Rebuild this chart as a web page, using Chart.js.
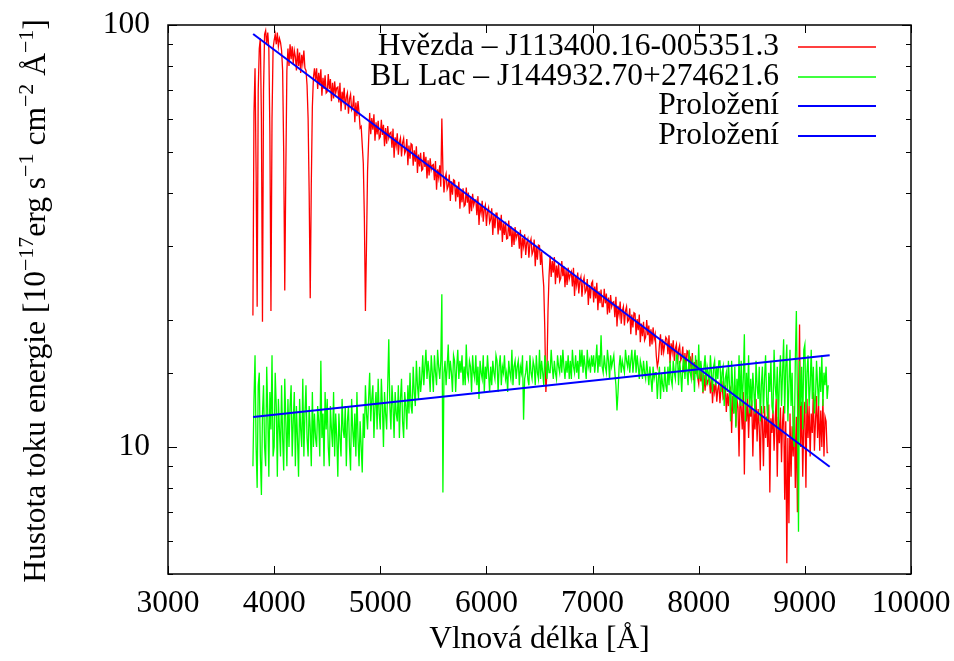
<!DOCTYPE html>
<html>
<head>
<meta charset="utf-8">
<script src="https://cdn.jsdelivr.net/npm/chart.js@4.4.1/dist/chart.umd.min.js"></script>
<style>
    html, body { margin: 0; padding: 0; background: #fff; }
</style>
</head>
<body>
<canvas id="spectrumChart" width="954" height="661"></canvas>
<script>
const waveStart = 3800;
const waveStep = 10;

// Hvězda – J113400.16-005351.3  (one row = 100 Å)
const starFlux = [
    20.5, 62, 79, 45, 21.5, 70, 88, 93, 60, 19.8,                        // 3800
    70, 95, 97, 90, 96, 88, 55, 21, 60, 88,                              // 3900
    92, 95, 90, 96, 89, 93, 91, 87, 78, 50,                              // 4000
    23.5, 45, 78, 88, 80, 90, 83, 89, 81, 87,                            // 4100
    84, 78, 88, 80, 86, 77, 85, 81, 87, 79,                              // 4200
    78, 72, 60, 40, 22.5, 42, 64, 75, 79, 74,                            // 4300
    79, 70.5, 77, 72, 78.5, 68, 75, 70.5, 76, 69,                        // 4400
    69.5, 76.5, 70.5, 74.5, 66, 73, 67, 73.5, 69, 71,                    // 4500
    71.3, 65.5, 73, 62.5, 69.5, 66.5, 71, 63, 67.5, 69,                  // 4600
    61.6, 66.8, 68.5, 63, 64, 68, 58.8, 65.5, 60.8, 66,                  // 4700
    62, 57, 57.5, 52, 47, 35, 21, 30, 45, 53,                            // 4800
    61.9, 55.1, 60.2, 56.5, 61.4, 53.2, 58.8, 55, 59.3, 53.8,            // 4900
    54.3, 59.6, 54.9, 58, 51.6, 57, 52.3, 57.6, 54, 55.4,                // 5000
    55.7, 51.2, 56.8, 48.5, 54.2, 51.8, 55.4, 49.3, 52.8, 54,            // 5100
    48.8, 52.6, 53.9, 49.6, 50.4, 53.7, 46.5, 51.8, 48.2, 52.3,          // 5200
    52, 46.4, 50.5, 47.4, 51.6, 44.6, 49.3, 46.2, 49.8, 45.2,            // 5300
    45.5, 50, 46.1, 48.7, 43.3, 47.8, 44, 48.3, 45.4, 46.5,              // 5400
    46.7, 42.9, 47.6, 40.7, 45.5, 43.5, 46.5, 41.4, 60, 45.3,            // 5500
    40.1, 43.3, 44.4, 40.8, 41.5, 44.2, 38.3, 42.6, 39.6, 43,            // 5600
    42.8, 38.2, 41.6, 39.1, 42.5, 36.7, 40.6, 38, 41, 37.2,              // 5700
    37.5, 41.2, 37.9, 40.1, 35.7, 39.3, 36.2, 39.8, 37.4, 38.3,          // 5800
    38.5, 35.4, 39.3, 33.6, 37.5, 35.9, 38.3, 34.2, 36.6, 37.4,          // 5900
    33.4, 36.1, 36.9, 34, 34.6, 36.8, 31.8, 35.4, 33, 35.8,              // 6000
    35.8, 31.9, 34.8, 32.6, 35.5, 30.6, 33.9, 31.8, 34.2, 31.1,          // 6100
    31.2, 34.4, 31.6, 33.4, 29.8, 32.8, 30.1, 33.2, 31.2, 31.9,          // 6200
    32.1, 29.5, 32.7, 28, 31.3, 29.9, 31.9, 28.5, 30.5, 31.1,            // 6300
    28.1, 30.4, 31.1, 28.6, 29.1, 31, 26.8, 29.9, 27.8, 30.1,            // 6400
    30, 27, 29, 26, 24, 19, 13.5, 15, 21, 25.5,                          // 6500
    28.4, 25.3, 27.6, 25.9, 28.2, 24.3, 26.9, 25.2, 27.2, 24.7,          // 6600
    25.1, 27.6, 25.4, 26.8, 23.9, 26.3, 24.2, 26.6, 25, 25.6,            // 6700
    26, 24, 26.6, 22.8, 25.4, 24.2, 25.9, 23.1, 24.7, 25.3,              // 6800
    22.7, 24.6, 25.2, 23.2, 23.5, 25, 21.7, 24.2, 22.5, 24.4,            // 6900
    24.7, 22, 24, 22.5, 24.5, 21.1, 23.4, 21.9, 23.6, 21.5,              // 7000
    21.5, 23.7, 21.9, 23.1, 20.6, 22.6, 20.8, 22.9, 21.5, 22,            // 7100
    22.1, 20.3, 22.7, 19.3, 21.6, 20.6, 22.1, 19.6, 21, 21.5,            // 7200
    19.4, 21, 21.5, 19.8, 20, 21.3, 18.5, 20.6, 19.2, 20.8,              // 7300
    20.7, 18.4, 20.1, 18.9, 20.6, 17.7, 19.6, 18.3, 19.8, 17.9,          // 7400
    18.2, 20, 18.4, 19.4, 17.3, 19, 17.5, 19.2, 18, 18.5,                // 7500
    16.5, 15.5, 16, 17.5, 18.5, 16.5, 18, 16.8, 17.5, 18.2,              // 7600
    18, 16.6, 18.4, 15.8, 17.6, 16.8, 17.9, 16, 17.1, 17.5,              // 7700
    15.7, 17, 17.4, 16, 16.3, 17.3, 15, 16.7, 15.5, 16.9,                // 7800
    16.8, 15, 16.4, 15.3, 16.7, 14.4, 15.9, 14.9, 16.1, 14.6,            // 7900
    14.1, 15.6, 14.3, 15.1, 13.4, 14.8, 13.6, 14.9, 14.1, 14.4,          // 8000
    14.5, 13.4, 14.8, 12.7, 14.1, 13.5, 14.4, 12.8, 13.7, 14.1,          // 8100
    12.7, 13.8, 14.1, 13, 13.1, 14, 12.1, 13.4, 12.5, 13.6,              // 8200
    13.8, 10.8, 13.2, 12, 14, 11.2, 13, 12.4, 9.5, 13.4,                 // 8300
    12.4, 11, 13.5, 8.6, 12.8, 11.5, 13.2, 10.5, 12.6, 11.8,             // 8400
    12.9, 9.5, 12.2, 11, 13, 10.3, 12.3, 11.2, 8.8, 12.5,                // 8500
    11.5, 9, 12.5, 10.5, 11.8, 10, 12.6, 7.8, 11.7, 10.8,                // 8600
    12.2, 9.8, 11.5, 13, 8.5, 11.8, 10.2, 12.4, 9.2, 11.5,               // 8700
    12.5, 7.5, 11.5, 5.3, 10.5, 6.6, 12, 8.5, 11.2, 9.5,                 // 8800
    12.5, 8, 11.8, 7, 12.3, 19.5, 10, 12.8, 8.5, 11.5,                   // 8900
    12.8, 8, 13, 10.5, 12.5, 9.5, 12, 10.8, 13.5, 9.8,                   // 9000
    11.5, 13.2, 10.5, 12.5, 9.8, 12.2, 10, 13, 9.5, 11.8,                // 9100
    11.5, 9.7, 9.7                                                       // 9200
];

// BL Lac – J144932.70+274621.6  (one row = 100 Å)
const blLacFlux = [
    9, 13, 16.5, 10, 8, 14, 15, 9.5, 7.7, 12,                            // 3800
    14, 10, 9, 15.5, 12, 8.5, 13.5, 11, 16.5, 9.5,                       // 3900
    10, 15, 12.5, 8.5, 13, 11, 9.5, 14, 10.5, 8.8,                       // 4000
    14.5, 11.5, 9, 13, 10, 12.5, 14, 9.5, 11.5, 13.5,                    // 4100
    9, 12.5, 10.5, 8.5, 13, 11, 10, 14.5, 9.5, 12,                       // 4200
    14, 10.5, 9.5, 12.5, 11, 9, 13.5, 10, 12, 10.5,                      // 4300
    10, 12.5, 11.5, 9.5, 16, 10.5, 12, 9, 13.5, 11,                      // 4400
    13, 10, 9, 12.5, 11, 10, 13.5, 9.5, 12, 10.5,                        // 4500
    8.5, 12, 10.5, 9.5, 13, 11, 10.5, 12.5, 9, 11.5,                     // 4600
    12.5, 10, 8.8, 13, 11, 10, 12, 9.5, 13.5, 10.5,                      // 4700
    9, 11.5, 10, 8.7, 12, 10.5, 14, 12, 11, 13,                          // 4800
    15, 11.5, 13, 14, 10.5, 12.5, 13.5, 11, 14.5, 12,                    // 4900
    11, 14.5, 12.5, 10, 13.5, 12, 11, 14, 18, 12.5,                      // 5000
    11, 14, 12.5, 10.5, 13.5, 12, 11.5, 14, 10.5, 13,                    // 5100
    14.5, 11.5, 10.5, 13.5, 12.5, 11, 14, 12, 15, 12.5,                  // 5200
    12, 15.5, 13.5, 12.5, 16, 14, 13, 15.5, 13.5, 14.5,                  // 5300
    16.5, 14, 15.5, 17, 14.5, 16, 15, 13.5, 16.5, 15,                    // 5400
    13.5, 16.5, 15, 14, 17, 15.5, 14.5, 16, 23, 7.8,                     // 5500
    15, 16, 14, 15.5, 17.5, 14.5, 16, 15, 13.5, 16.5,                    // 5600
    16, 13.5, 15.5, 17, 14.5, 16, 15, 16.5, 14, 15.5,                    // 5700
    14, 17.5, 15, 14.5, 16, 15.5, 13.5, 16.5, 15, 14.5,                  // 5800
    16.5, 14, 15.5, 13, 16, 15, 14.5, 16.5, 13.5, 15.5,                  // 5900
    14.5, 16.5, 15, 13.5, 15.5, 14, 16, 15, 14.5, 16.5,                  // 6000
    16, 13.5, 15.5, 16.5, 14, 15.5, 15, 16.5, 14.5, 15,                  // 6100
    13.5, 16, 15, 14.5, 17, 14, 15.5, 16, 14.5, 15.5,                    // 6200
    16, 14, 15.5, 15, 16.5, 11.6, 14.5, 15, 16, 14.5,                    // 6300
    14, 16.5, 15, 14.5, 16, 15.5, 14, 16.5, 15, 14.5,                    // 6400
    17, 14.5, 16, 15, 14, 16.5, 15.5, 14.5, 16, 15,                      // 6500
    15, 17, 15.5, 14.5, 16, 15, 14.5, 16.5, 15.5, 15,                    // 6600
    16.5, 15, 17, 15.5, 14.5, 16, 15, 16.5, 14.5, 16,                    // 6700
    14.5, 17, 15.5, 15, 16.5, 15, 16, 14.5, 17, 15.5,                    // 6800
    17, 15, 16.5, 15.5, 14.5, 17, 15.5, 16, 15, 16.5,                    // 6900
    15.5, 16.5, 15, 16, 17.5, 15, 16.5, 15.5, 18.4, 15.5,                // 7000
    15, 16.5, 15.5, 15, 17, 16, 14.5, 16.5, 15.5, 16,                    // 7100
    16.5, 15, 14, 12.2, 13.5, 15.5, 16.5, 15, 16, 15.5,                  // 7200
    15, 17, 16, 15.5, 16.5, 15, 16, 17, 15, 16,                          // 7300
    17, 15, 16.5, 15.5, 14.5, 16, 15.5, 14.5, 16, 15,                    // 7400
    14.5, 16, 15, 14, 15.5, 14.5, 13.5, 15.5, 14.5, 15,                  // 7500
    15, 13, 14.5, 15.5, 13, 15, 14, 13.5, 15.5, 14,                      // 7600
    13.5, 15.5, 14, 16, 14.5, 14, 16, 15, 14.5, 16.5,                    // 7700
    16.5, 14, 16, 15, 13.5, 15.5, 16.5, 14.5, 16, 15,                    // 7800
    14, 17, 15, 14.5, 16, 15.5, 13.5, 16.5, 15, 14.5,                    // 7900
    17.5, 14.5, 16, 15, 13.5, 15.5, 16.5, 14, 15.5, 15,                  // 8000
    14, 16.5, 15, 13.5, 15.5, 16, 14, 15.5, 14.5, 16,                    // 8100
    16, 13.5, 15, 15.5, 12.5, 14.5, 15, 13.5, 16, 14,                    // 8200
    11.5, 16, 14, 12, 15.5, 11.1, 14.5, 13, 16.5, 12.5,                  // 8300
    16, 12.5, 14.5, 18.5, 11.5, 15, 13, 16.5, 12, 14.5,                  // 8400
    12.5, 15, 13.5, 12, 16, 14, 13, 15.5, 11.5, 14,                      // 8500
    15.5, 12, 14.5, 16.5, 13, 11.5, 15, 13.5, 16, 12.5,                  // 8600
    12, 17, 14, 13, 15.5, 11, 14.5, 16.5, 12.5, 15,                      // 8700
    18, 12, 15.5, 17.5, 11.5, 14, 17, 12.5, 15, 10.5,                    // 8800
    10, 16, 21, 13, 6.3, 16, 12.5, 15.5, 11, 17,                         // 8900
    17.5, 12, 15, 16.5, 12.5, 14, 17, 13, 15.5, 12,                      // 9000
    13, 16, 14, 12.5, 15.5, 13.5, 16.5, 12.5, 15, 14,                    // 9100
    15.5, 13, 14                                                         // 9200
];

// Fitted lines (end points)
const fitWave = [3802, 9234];
const starFitFlux = [95.2, 8.98];
const blLacFitFlux = [11.78, 16.5];

const xMin = 3000, xMax = 10000, xTickStep = 1000;
const yMin = 5, yMax = 100;
const yLabelled = [10, 100];

const legendLabels = [
    'Hvězda – J113400.16-005351.3',
    'BL Lac – J144932.70+274621.6',
    'Proložení',
    'Proložení'
];
const seriesColors = ['#ff0000', '#00ff00', '#0000ff', '#0000ff'];

const serif = '"Liberation Serif", "Times New Roman", serif';
const fontSize = 31.5;

function toPoints(flux) {
    return flux.map((v, i) => ({ x: waveStart + i * waveStep, y: v }));
}
function fitPoints(flux) {
    return flux.map((v, i) => ({ x: fitWave[i], y: v }));
}

// y-axis title pieces, true = superscript
const yTitleParts = [
    ['Hustota toku energie [10', false],
    ['−17', true],
    ['erg s', false],
    ['−1', true],
    [' cm', false],
    ['−2', true],
    [' Å', false],
    ['−1', true],
    [']', false]
];

const decorations = {
    id: 'decorations',
    afterDraw(chart) {
        const ctx = chart.ctx;
        const a = chart.chartArea;
        const xs = chart.scales.x, ys = chart.scales.y;

        ctx.save();
        // tick marks on all four sides, pointing in
        ctx.strokeStyle = '#000';
        ctx.lineWidth = 1;
        ctx.beginPath();
        xs.ticks.forEach(t => {
            const px = Math.round(xs.getPixelForValue(t.value)) + 0.5;
            ctx.moveTo(px, a.bottom); ctx.lineTo(px, a.bottom - 8);
            ctx.moveTo(px, a.top); ctx.lineTo(px, a.top + 8);
        });
        ys.ticks.forEach(t => {
            const py = Math.round(ys.getPixelForValue(t.value)) + 0.5;
            const len = yLabelled.includes(t.value) ? 9 : 5;
            ctx.moveTo(a.left, py); ctx.lineTo(a.left + len, py);
            ctx.moveTo(a.right, py); ctx.lineTo(a.right - len, py);
        });
        ctx.stroke();

        // border
        ctx.lineWidth = 1.5;
        ctx.strokeRect(a.left, a.top, a.right - a.left, a.bottom - a.top);

        // legend
        ctx.font = fontSize + 'px ' + serif;
        ctx.textAlign = 'right';
        ctx.textBaseline = 'middle';
        legendLabels.forEach((label, i) => {
            const y = 47 + i * 29.6;
            ctx.fillStyle = '#000';
            ctx.fillText(label, 779, y);
            ctx.strokeStyle = seriesColors[i];
            ctx.lineWidth = i < 2 ? 1.6 : 2.2;
            ctx.beginPath();
            ctx.moveTo(798, Math.round(y));
            ctx.lineTo(876, Math.round(y));
            ctx.stroke();
        });

        // rotated y title
        ctx.translate(45, 301);
        ctx.rotate(-Math.PI / 2);
        ctx.textAlign = 'left';
        ctx.textBaseline = 'alphabetic';
        ctx.fillStyle = '#000';
        const supFont = '22px ' + serif, mainFont = fontSize + 'px ' + serif;
        let total = 0;
        yTitleParts.forEach(([s, sup]) => {
            ctx.font = sup ? supFont : mainFont;
            total += ctx.measureText(s).width;
        });
        let x = -total / 2;
        yTitleParts.forEach(([s, sup]) => {
            ctx.font = sup ? supFont : mainFont;
            ctx.fillText(s, x, sup ? -12.5 : 0);
            x += ctx.measureText(s).width;
        });
        ctx.restore();
    }
};

new Chart(document.getElementById('spectrumChart'), {
    type: 'line',
    data: {
        datasets: [
            { label: legendLabels[0], data: toPoints(starFlux), borderColor: seriesColors[0], borderWidth: 1.3, order: 4 },
            { label: legendLabels[1], data: toPoints(blLacFlux), borderColor: seriesColors[1], borderWidth: 1.3, order: 3 },
            { label: legendLabels[2], data: fitPoints(starFitFlux), borderColor: seriesColors[2], borderWidth: 2, order: 2 },
            { label: legendLabels[3], data: fitPoints(blLacFitFlux), borderColor: seriesColors[3], borderWidth: 2, order: 1 }
        ]
    },
    options: {
        responsive: false,
        animation: false,
        elements: { point: { radius: 0 }, line: { tension: 0, fill: false } },
        layout: { padding: { left: 0, right: 43, top: 25, bottom: 0 } },
        plugins: { legend: { display: false }, tooltip: { enabled: false } },
        scales: {
            x: {
                type: 'linear',
                min: xMin,
                max: xMax,
                grid: { display: false, drawTicks: false },
                border: { display: false },
                ticks: {
                    stepSize: xTickStep,
                    maxRotation: 0,
                    padding: 11,
                    color: '#000',
                    font: { family: serif, size: fontSize },
                    callback: v => String(v)
                },
                title: {
                    display: true,
                    text: 'Vlnová délka [Å]',
                    color: '#000',
                    font: { family: serif, size: fontSize },
                    padding: { top: 0, bottom: 2 }
                },
                afterFit: s => { s.height = 87; s.paddingLeft = 0; s.paddingRight = 0; }
            },
            y: {
                type: 'logarithmic',
                min: yMin,
                max: yMax,
                grid: { display: false, drawTicks: false },
                border: { display: false },
                ticks: {
                    autoSkip: false,
                    padding: 18,
                    color: '#000',
                    font: { family: serif, size: fontSize },
                    callback: v => yLabelled.includes(v) ? String(v) : ''
                },
                afterFit: s => { s.width = 168; s.paddingTop = 0; s.paddingBottom = 0; }
            }
        }
    },
    plugins: [decorations]
});
</script>
</body>
</html>
